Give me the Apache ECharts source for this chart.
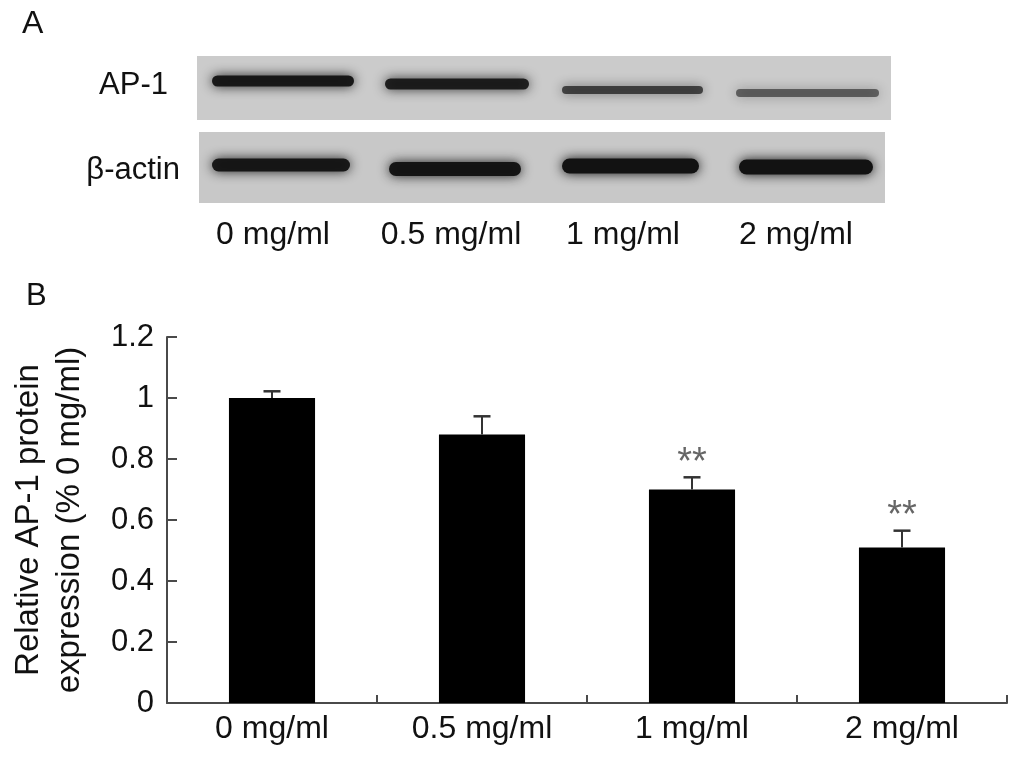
<!DOCTYPE html>
<html>
<head>
<meta charset="utf-8">
<script src="https://cdn.jsdelivr.net/npm/echarts@6/dist/echarts.min.js"></script>
<style>
html,body{margin:0;padding:0;background:#fff;}
#chart{width:1021px;height:760px;}
</style>
</head>
<body>
<div id="chart"></div>
<script>
// ---- data ----
const categories = ['0 mg/ml', '0.5 mg/ml', '1 mg/ml', '2 mg/ml'];
const values = [1.0, 0.88, 0.70, 0.51];
const errors = [0.022, 0.06, 0.04, 0.055];
const significance = ['', '', '**', '**'];
const blotLanes = ['0 mg/ml', '0.5 mg/ml', '1 mg/ml', '2 mg/ml'];
const ap1Intensity = [0.95, 0.9, 0.7, 0.55];
const actinIntensity = [0.95, 0.97, 1.0, 1.0];

const FONT = '"Liberation Sans", Arial, Helvetica, sans-serif';
const TEXT = '#111111';
const AXIS = '#4a4a4a';

const chart = echarts.init(document.getElementById('chart'), null, {renderer: 'canvas'});

// ---- western blot (panel A) decoration ----
function band(x1, x2, yc, h, alpha) {
  const c = 'rgba(18,18,18,' + alpha + ')';
  return {
    type: 'rect',
    shape: {x: x1 + 3, y: yc - h / 2, width: x2 - x1 - 6, height: h, r: h / 2},
    style: {fill: c, shadowBlur: 12, shadowColor: c},
    silent: true
  };
}
const ap1Geo = [[209, 357, 81, 11], [382, 532, 84, 11], [559, 706, 90, 8], [733, 882, 93, 8]];
const actinGeo = [[209, 353, 165, 13], [386, 524, 169, 14], [559, 702, 166, 15], [736, 876, 167, 15]];
const laneCenters = [273, 451, 623, 796];

const graphics = [
  {type: 'text', left: 22, top: 8, style: {text: 'A', font: '32px ' + FONT, fill: TEXT}},
  {type: 'text', left: 26, top: 281, style: {text: 'B', font: '31px ' + FONT, fill: TEXT}},
  {type: 'rect', shape: {x: 197, y: 56, width: 694, height: 64}, style: {fill: '#cbcbcb'}, silent: true},
  {type: 'rect', shape: {x: 199, y: 132, width: 686, height: 71}, style: {fill: '#c8c8c8'}, silent: true},
  {type: 'text', x: 168, y: 85, style: {text: 'AP-1', font: '31px ' + FONT, fill: TEXT, align: 'right', verticalAlign: 'middle'}},
  {type: 'text', x: 180, y: 170, style: {text: 'β-actin', font: '31px ' + FONT, fill: TEXT, align: 'right', verticalAlign: 'middle'}}
];
ap1Geo.forEach((g, i) => graphics.push(band(g[0], g[1], g[2], g[3], ap1Intensity[i])));
actinGeo.forEach((g, i) => graphics.push(band(g[0], g[1], g[2], g[3], actinIntensity[i])));
blotLanes.forEach((t, i) => graphics.push({
  type: 'text', x: laneCenters[i], y: 235,
  style: {text: t, font: '32px ' + FONT, fill: TEXT, align: 'center', verticalAlign: 'middle'}
}));

// ---- chart (panel B) ----
const option = {
  backgroundColor: '#ffffff',
  animation: false,
  graphic: graphics,
  grid: {left: 165, right: 14, top: 337, bottom: 57, containLabel: false},
  xAxis: {
    type: 'category',
    data: categories,
    boundaryGap: true,
    axisLine: {lineStyle: {color: AXIS, width: 2}},
    axisTick: {show: true, inside: true, length: 8, alignWithLabel: false, lineStyle: {color: AXIS, width: 2}},
    axisLabel: {color: TEXT, fontSize: 32, fontFamily: FONT, margin: 10}
  },
  yAxis: {
    type: 'value',
    min: 0, max: 1.2, interval: 0.2,
    name: 'Relative AP-1 protein\nexpression (% 0 mg/ml)',
    nameLocation: 'middle',
    nameRotate: 90,
    nameGap: 77,
    nameTextStyle: {color: TEXT, fontSize: 33, fontFamily: FONT, lineHeight: 41},
    splitLine: {show: false},
    axisLine: {show: true, lineStyle: {color: AXIS, width: 2}},
    axisTick: {show: true, inside: true, length: 10, lineStyle: {color: AXIS, width: 2}},
    axisLabel: {color: TEXT, fontSize: 31, fontFamily: FONT, margin: 13}
  },
  series: [
    {
      type: 'bar',
      data: values,
      barWidth: '41%',
      itemStyle: {color: '#000000'},
      z: 2
    },
    {
      type: 'custom',
      z: 3,
      data: values.map((v, i) => [i, v, errors[i]]),
      renderItem: function (params, api) {
        const i = api.value(0);
        const v = api.value(1);
        const e = api.value(2);
        const base = api.coord([i, v]);
        const top = api.coord([i, v + e]);
        const hw = 8.5;
        return {
          type: 'group',
          children: [
            {type: 'line', shape: {x1: base[0], y1: base[1], x2: top[0], y2: top[1]}, style: {stroke: '#333', lineWidth: 2}},
            {type: 'line', shape: {x1: top[0] - hw, y1: top[1], x2: top[0] + hw, y2: top[1]}, style: {stroke: '#333', lineWidth: 2.5}}
          ]
        };
      }
    },
    {
      type: 'custom',
      z: 4,
      data: values.map((v, i) => [i, v + errors[i], significance[i]]),
      renderItem: function (params, api) {
        const i = api.value(0);
        const top = api.coord([i, api.value(1)]);
        const s = significance[params.dataIndex];
        if (!s) return null;
        return {
          type: 'text',
          x: top[0], y: top[1] + 5,
          style: {text: s, font: '38px ' + FONT, fill: '#666', align: 'center', verticalAlign: 'bottom'}
        };
      }
    }
  ]
};
chart.setOption(option);
</script>
</body>
</html>
